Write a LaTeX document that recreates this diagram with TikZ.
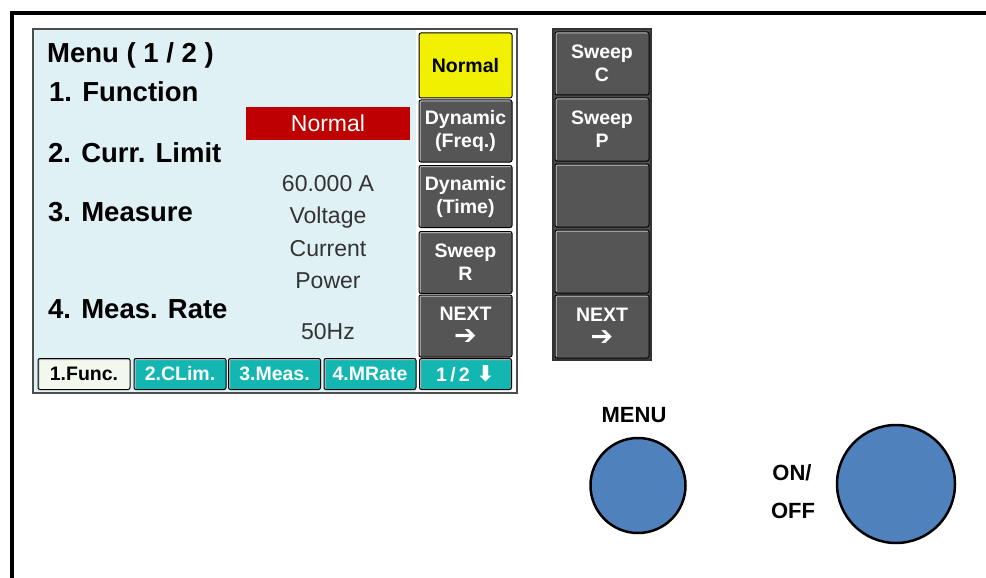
\documentclass[tikz,border=0pt]{standalone}
\usepackage{fontspec}
\setmainfont{Liberation Sans}
\newfontfamily\arrowfont{DejaVu Sans}
\usepackage{tikz}
\tikzset{>=stealth}

\definecolor{screenbg}{RGB}{224,241,246}
\definecolor{keygray}{RGB}{85,85,85}
\definecolor{keyhi}{RGB}{200,200,200}
\definecolor{keyyellow}{RGB}{240,240,0}
\definecolor{tabteal}{RGB}{20,182,178}
\definecolor{tabpale}{RGB}{242,248,236}
\definecolor{barred}{RGB}{190,0,0}
\definecolor{knobblue}{RGB}{79,129,189}

\newcommand{\keyfont}{\fontsize{19.5}{23}\selectfont\bfseries}
\newcommand{\rarr}{{\arrowfont\fontsize{27}{23}\selectfont ➔}}
\newcommand{\darr}{{\arrowfont\fontsize{22}{23}\selectfont ⬇}}

\tikzset{
  softkey/.style={fill=keygray, draw=black, line width=1pt, rounded corners=2pt,
    text=white, font=\keyfont, align=center, inner sep=0pt,
    minimum width=93pt, minimum height=62pt,
    path picture={\draw[keyhi, line width=3pt] (path picture bounding box.south west)
      -- (path picture bounding box.north west) -- (path picture bounding box.north east);}},
  tab/.style={softkey, fill=tabteal, minimum width=92pt, minimum height=31pt},
  heading/.style={anchor=base west, inner sep=0pt, font=\fontsize{27.5}{30}\selectfont\bfseries},
  value/.style={anchor=base, inner sep=0pt, text=black!80, font=\fontsize{23}{26}\selectfont},
  knob/.style={circle, draw=black, line width=2.5pt, fill=knobblue, inner sep=0pt},
  keylabel/.style={anchor=base, inner sep=0pt, font=\fontsize{22}{26}\selectfont\bfseries}
}

\begin{document}
\begin{tikzpicture}[x=1pt,y=-1pt]
        \useasboundingbox (0,0) rectangle (986,578);
        \draw[line width=4pt] (11.5,578) -- (11.5,13) -- (986,13);

        % display
        \draw[black!70, fill=screenbg, line width=1.2pt] (33,29) rectangle (517,393);
        \fill[white] (416,30) rectangle (516,392);

        \node[heading] at (47,63)  (menu)   {Menu ( 1 / 2 )};
        \node[heading] at (49,102) (func)   {1. Function};
        \node[heading] at (48,162) (climit) {2. Curr. Limit};
        \node[heading] at (48,221) (meas)   {3. Measure};
        \node[heading] at (48,318) (rate)   {4. Meas. Rate};

        \node[fill=barred, text=white, minimum width=164pt, minimum height=33pt,
              font=\fontsize{23}{26}\selectfont] at (328,123.5) (funcval) {Normal};
        \node[value] at (328,191) (climval) {60.000 A};
        \node[value] at (328,223) (volt)    {Voltage};
        \node[value] at (328,256) (curr)    {Current};
        \node[value] at (328,288) (pow)     {Power};
        \node[value] at (328,339) (rateval) {50Hz};

        \node[softkey, fill=keyyellow, text=black, minimum height=65pt,
              path picture={}] at (465.5,65.5) (normal) {Normal};
        \node[softkey] at (465.5,131)   (dynf)   {Dynamic\\(Freq.)};
        \node[softkey] at (465.5,196.5) (dynt)   {Dynamic\\(Time)};
        \node[softkey] at (465.5,262.5) (sweepr) {Sweep\\R};
        \node[softkey] at (465.5,326)   (next)   {NEXT\\[1pt]\rarr};

        \node[tab, fill=tabpale, text=black] at (84,374) (tfunc) {1.Func.};
        \node[tab] at (180,374)   (tclim) {2.CLim.};
        \node[tab] at (274.5,374) (tmeas) {3.Meas.};
        \node[tab] at (370,374)   (trate) {4.MRate};
        \node[tab] at (465.5,374) (tpage) {1\,/\,2\,\,\darr};

        % second page of keys
        \draw[black!80, fill=black!70, line width=1.2pt] (553,29) rectangle (651,360);
        \node[softkey, minimum width=94pt, minimum height=63pt] at (602,63.5)  (sweepc) {Sweep\\C};
        \node[softkey, minimum width=94pt, minimum height=63pt] at (602,129.5) (sweepp) {Sweep\\P};
        \node[softkey, minimum width=94pt, minimum height=63pt] at (602,195.5) (blanka) {};
        \node[softkey, minimum width=94pt, minimum height=63pt] at (602,261.5) (blankb) {};
        \node[softkey, minimum width=94pt, minimum height=63pt] at (602,326.5) (nextb)  {NEXT\\[1pt]\rarr};

        % front panel keys
        \node[keylabel] at (634,422) (menulbl) {MENU};
        \node[knob, minimum size=95pt] at (638,485.5) (menukey) {};
        \node[keylabel] at (792,480) (onlbl)  {ON/};
        \node[keylabel] at (793,518) (offlbl) {OFF};
        \node[knob, minimum size=118pt] at (896,484) (onoff) {};
\end{tikzpicture}
\end{document}
